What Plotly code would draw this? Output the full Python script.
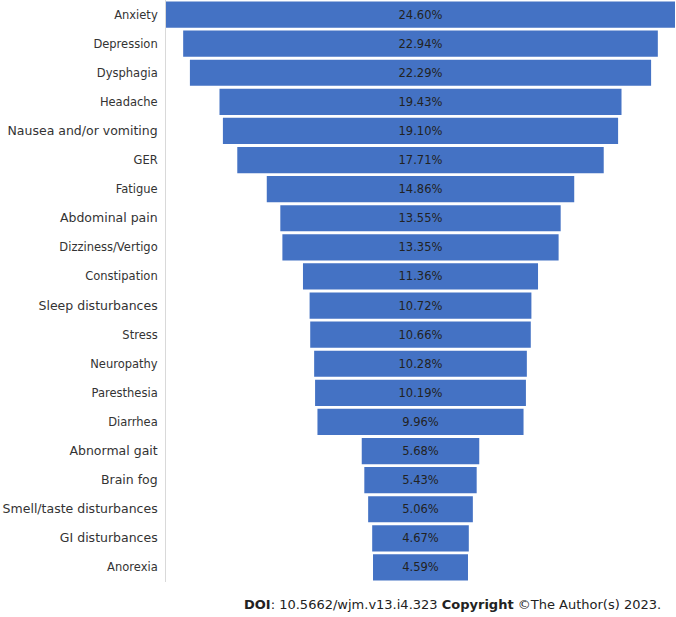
import plotly.graph_objects as go

categories = ["Anxiety", "Depression", "Dysphagia", "Headache", "Nausea and/or vomiting",
              "GER", "Fatigue", "Abdominal pain", "Dizziness/Vertigo", "Constipation",
              "Sleep disturbances", "Stress", "Neuropathy", "Paresthesia", "Diarrhea",
              "Abnormal gait", "Brain fog", "Smell/taste disturbances", "GI disturbances", "Anorexia"]
values = [24.60, 22.94, 22.29, 19.43, 19.10, 17.71, 14.86, 13.55, 13.35, 11.36,
          10.72, 10.66, 10.28, 10.19, 9.96, 5.68, 5.43, 5.06, 4.67, 4.59]
large_labels = {"Nausea and/or vomiting", "Abdominal pain", "Sleep disturbances",
                "Abnormal gait", "Brain fog", "Smell/taste disturbances", "GI disturbances"}

ticktext = [(f'<span style="font-size:12.5px">{c}</span>' if c in large_labels else c) for c in categories]

fig = go.Figure(go.Funnel(
    y=categories,
    x=values,
    texttemplate="%{x:.2f}%",
    textposition="inside",
    insidetextanchor="middle",
    textfont=dict(family="DejaVu Sans", size=11.5, color="#222222"),
    marker=dict(color="#4472C4", line=dict(width=0)),
    connector=dict(visible=False),
))

fig.update_layout(
    width=676, height=617,
    margin=dict(l=166, r=1, t=0, b=35, autoexpand=False),
    paper_bgcolor="white", plot_bgcolor="white",
    showlegend=False,
    funnelgap=0.1,
    font=dict(family="DejaVu Sans", size=11.5, color="#333333"),
    xaxis=dict(visible=False, range=[-values[0] / 2, values[0] / 2], automargin=False),
    yaxis=dict(tickmode="array", tickvals=categories, ticktext=ticktext,
               range=[len(categories) - 0.5, -0.5], automargin=False,
               showline=True, linecolor="#d9d9d9", linewidth=1, ticks="",
               ticklabelstandoff=5, tickfont=dict(size=11.5, color="#333333")),
)

fig.add_annotation(
    text="<b>DOI</b>: 10.5662/wjm.v13.i4.323 <b>Copyright</b> ©The Author(s) 2023.",
    xref="paper", yref="paper", x=1.0, y=0, xanchor="right", yanchor="top",
    xshift=-12, yshift=-13, showarrow=False,
    font=dict(family="DejaVu Sans", size=13, color="#222222"),
)

fig.write_html("out.html", config={"displayModeBar": False},
               post_script="document.body.style.margin='0';")
